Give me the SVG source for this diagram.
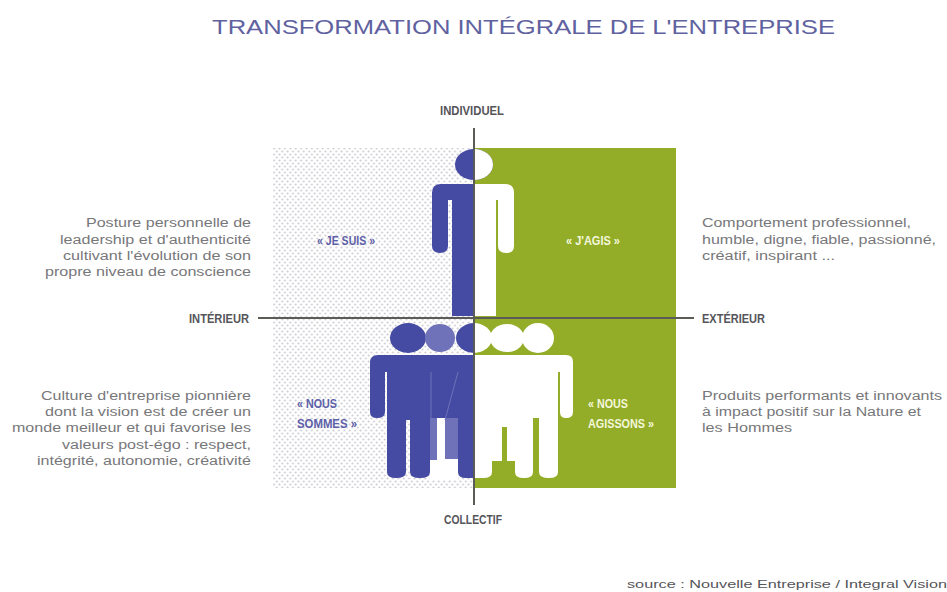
<svg xmlns="http://www.w3.org/2000/svg" width="947" height="592" viewBox="0 0 947 592">
<style>
.t{font-family:"Liberation Sans",Arial,sans-serif;font-size:12px;fill:#77777a}
.a{font-family:"Liberation Sans Narrow","Liberation Sans",Arial,sans-serif;font-size:12px;font-weight:700;fill:#55555a}
.b{font-family:"Liberation Sans Narrow","Liberation Sans",Arial,sans-serif;font-size:12px;font-weight:700;fill:#5d60a8}
.w{font-family:"Liberation Sans Narrow","Liberation Sans",Arial,sans-serif;font-size:12px;font-weight:700;fill:#f4f7dc}
.blue{fill:#454aa3}.lb{fill:#6f72b8}.wh{fill:#fff}.gr{fill:#93ad28}
.ax{stroke:#5b5b58;stroke-width:2;fill:none}
</style>
<defs>
<pattern id="dots" width="5.4" height="6" patternUnits="userSpaceOnUse">
<circle cx="1.4" cy="1.5" r="1" fill="#c9c9d0"/><circle cx="4.1" cy="4.5" r="1" fill="#c9c9d0"/>
</pattern>
</defs>
<rect width="947" height="592" fill="#fff"/>
<text id="title" x="212" y="34" textLength="623" lengthAdjust="spacingAndGlyphs" style="font-family:'Liberation Sans',Arial,sans-serif;font-size:21px;fill:#5f629f">TRANSFORMATION INTÉGRALE DE L'ENTREPRISE</text>
<g id="quadrant-bg">
<rect x="273" y="148" width="201" height="340" fill="url(#dots)"/>
<rect class="gr" x="474" y="148" width="202" height="340"/>
</g>
<g id="person-je">
<ellipse class="blue" cx="474" cy="164.500" rx="19" ry="15.500"/>
<path class="blue" d="M474 184H441Q432 184 432 193V246Q432 253 440 253Q448 253 448 246V200H452V316H474Z"/>
</g>
<g id="person-faire">
<path class="wh" d="M474 149A19 15.500 0 0 1 474 180Z"/>
<path class="wh" d="M474 184H505Q514 184 514 193V246Q514 253 506 253Q498 253 498 246V200H496V316H474Z"/>
</g>
<g id="group-nous-sommes">
<rect class="wh" x="430" y="418" width="28" height="62"/>
<rect class="lb" x="430" y="418" width="7" height="42"/>
<rect class="lb" x="445" y="418" width="13" height="41"/>
<ellipse class="blue" cx="408" cy="338" rx="18" ry="15"/>
<ellipse class="lb" cx="440" cy="338" rx="15" ry="14"/>
<path class="blue" d="M456 338A18 15 0 0 1 474 323V353A18 15 0 0 1 456 338Z"/>
<path class="blue" d="M474 355H378Q370 355 370 363V412Q370 418 377 418Q385 418 385 412V372H387V472Q387 478 396 478Q406 478 406 472V420H410V472Q410 478 420 478Q430 478 430 472V418H458V472Q458 478 466 478H474Z"/>
<path d="M431 372V425M458 372L445 420" stroke="#6f72b8" stroke-width="1" fill="none"/>
</g>
<g id="group-nous-agissons">
<ellipse class="wh" cx="507" cy="338" rx="17" ry="14"/>
<ellipse class="wh" cx="538" cy="338" rx="16" ry="15"/>
<path class="wh" d="M474 323A18 15 0 0 1 474 353Z"/>
<path class="wh" d="M474 355H566Q573 355 573 362V412Q573 418 566 418Q560 418 560 412V372H558V472Q558 478 549 478Q539 478 539 472V418H533V472Q533 478 524 478Q515 478 515 472V461H507V427H502V461H492V472Q492 478 483 478H474Z"/>
</g>
<g id="connectors">
<line class="ax" x1="474" y1="128" x2="474" y2="505"/>
<line class="ax" x1="258" y1="318" x2="694" y2="318"/>
</g>
<g id="axis-labels">
<text class="a" x="440" y="115" textLength="64" lengthAdjust="spacingAndGlyphs">INDIVIDUEL</text>
<text class="a" x="444" y="524" textLength="58" lengthAdjust="spacingAndGlyphs">COLLECTIF</text>
<text class="a" x="189" y="323" textLength="60" lengthAdjust="spacingAndGlyphs">INTÉRIEUR</text>
<text class="a" x="702" y="323" textLength="63" lengthAdjust="spacingAndGlyphs">EXTÉRIEUR</text>
</g>
<g id="label-je-suis"><text class="b" x="317" y="245" textLength="58" lengthAdjust="spacingAndGlyphs">« JE SUIS »</text></g>
<g id="label-faire"><text class="w" x="566" y="245" textLength="54" lengthAdjust="spacingAndGlyphs">« J'AGIS »</text></g>
<g id="label-nous-sommes">
<text class="b" x="297" y="408" textLength="40" lengthAdjust="spacingAndGlyphs">« NOUS</text>
<text class="b" x="297" y="428" textLength="60" lengthAdjust="spacingAndGlyphs">SOMMES »</text>
</g>
<g id="label-nous-agissons">
<text class="w" x="588" y="408" textLength="40" lengthAdjust="spacingAndGlyphs">« NOUS</text>
<text class="w" x="588" y="428" textLength="66" lengthAdjust="spacingAndGlyphs">AGISSONS »</text>
</g>
<g id="text-top-left">
<text class="t" x="86" y="227" textLength="165" lengthAdjust="spacingAndGlyphs">Posture personnelle de</text>
<text class="t" x="60" y="244" textLength="191" lengthAdjust="spacingAndGlyphs">leadership et d'authenticité</text>
<text class="t" x="63" y="260" textLength="188" lengthAdjust="spacingAndGlyphs">cultivant l'évolution de son</text>
<text class="t" x="45" y="276" textLength="206" lengthAdjust="spacingAndGlyphs">propre niveau de conscience</text>
</g>
<g id="text-top-right">
<text class="t" x="702" y="227" textLength="209" lengthAdjust="spacingAndGlyphs">Comportement professionnel,</text>
<text class="t" x="702" y="244" textLength="234" lengthAdjust="spacingAndGlyphs">humble, digne, fiable, passionné,</text>
<text class="t" x="702" y="260" textLength="133" lengthAdjust="spacingAndGlyphs">créatif, inspirant ...</text>
</g>
<g id="text-bottom-left">
<text class="t" x="41" y="400" textLength="210" lengthAdjust="spacingAndGlyphs">Culture d'entreprise pionnière</text>
<text class="t" x="45" y="416" textLength="206" lengthAdjust="spacingAndGlyphs">dont la vision est de créer un</text>
<text class="t" x="12" y="432" textLength="239" lengthAdjust="spacingAndGlyphs">monde meilleur et qui favorise les</text>
<text class="t" x="62" y="449" textLength="189" lengthAdjust="spacingAndGlyphs">valeurs post-égo : respect,</text>
<text class="t" x="37" y="465" textLength="214" lengthAdjust="spacingAndGlyphs">intégrité, autonomie, créativité</text>
</g>
<g id="text-bottom-right">
<text class="t" x="702" y="400" textLength="240" lengthAdjust="spacingAndGlyphs">Produits performants et innovants</text>
<text class="t" x="702" y="416" textLength="219" lengthAdjust="spacingAndGlyphs">à impact positif sur la Nature et</text>
<text class="t" x="702" y="432" textLength="90" lengthAdjust="spacingAndGlyphs">les Hommes</text>
</g>
<text id="source" x="627" y="588" textLength="320" lengthAdjust="spacingAndGlyphs" style="font-family:'Liberation Sans',Arial,sans-serif;font-size:11.500px;fill:#55555a">source : Nouvelle Entreprise /  Integral Vision</text>
</svg>
